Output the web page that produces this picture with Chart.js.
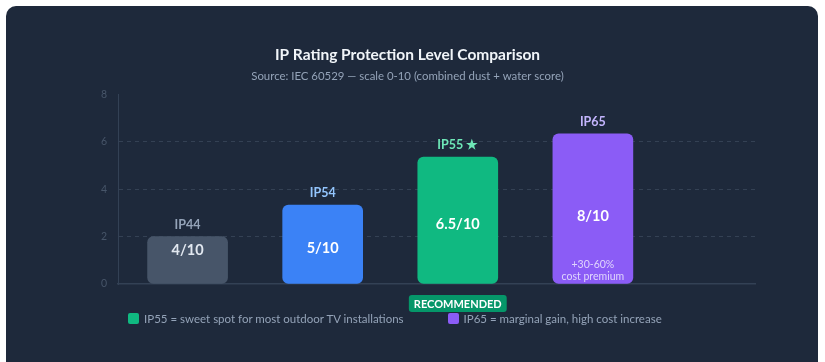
<!DOCTYPE html>
<html>
<head>
<meta charset="utf-8">
<script src="https://cdn.jsdelivr.net/npm/chart.js@4.4.1/dist/chart.umd.min.js"></script>
<style>
  html, body { margin: 0; padding: 0; background: #fff; overflow: hidden; }
  body { width: 825px; height: 362px; position: relative; font-family: Lato, sans-serif; }
  .card { position: absolute; left: 6px; top: 6px; width: 812px; height: 370px; background: #1e293b; border-radius: 10px; }
  .chart-wrap { position: absolute; left: 0; top: 0; width: 812px; height: 334px; }
  .legend { position: absolute; left: 122px; top: 306px; display: flex; gap: 44px; font-size: 11.5px; color: #94a3b8; }
  .legend span.item { display: flex; align-items: center; }
  .legend i { display: inline-block; width: 11px; height: 11px; border-radius: 2px; margin-right: 5px; }
</style>
</head>
<body>
<div class="card">
  <div class="chart-wrap"><canvas id="ip-chart"></canvas></div>
  <div class="legend" id="legend"></div>
</div>
<script>
// data
const categories = ['IP44', 'IP54', 'IP55', 'IP65'];
const barHeights = [2.0, 3.33, 5.35, 6.33];
const topLabels = ['IP44', 'IP54', 'IP55 \u2605', 'IP65'];
const scoreLabels = ['4/10', '5/10', '6.5/10', '8/10'];
const notes = ['', '', '', '+30-60%|cost premium'];
const badges = ['', '', 'RECOMMENDED', ''];
const yTicks = [0, 2, 4, 6, 8];
const legendItems = ['IP55 = sweet spot for most outdoor TV installations', 'IP65 = marginal gain, high cost increase'];

const barColors = ['#475569', '#3b82f6', '#10b981', '#8b5cf6'];
const labelColors = ['#94a3b8', '#93c5fd', '#6ee7b7', '#c4b5fd'];
const legendColors = ['#10b981', '#8b5cf6'];
const FONT = 'Lato, sans-serif';

const legendEl = document.getElementById('legend');
legendItems.forEach((t, i) => {
  legendEl.innerHTML += '<span class="item"><i style="background:' + legendColors[i] + '"></i>' + t + '</span>';
});

const barText = {
  id: 'barText',
  afterDatasetsDraw(chart) {
    const ctx = chart.ctx;
    const meta = chart.getDatasetMeta(0);
    ctx.save();
    ctx.textAlign = 'center';
    ctx.textBaseline = 'middle';
    meta.data.forEach((bar, i) => {
      const top = bar.y, bottom = bar.base, h = bottom - top;
      ctx.font = 'bold 12.5px ' + FONT;
      ctx.fillStyle = labelColors[i];
      ctx.fillText(topLabels[i], bar.x, top - 12);

      ctx.font = 'bold 14.5px ' + FONT;
      ctx.fillStyle = i === 0 ? '#e2e8f0' : '#ffffff';
      const sy = h < 60 ? top + 14 : (top + bottom) / 2 + (notes[i] ? 8 : 4);
      ctx.fillText(scoreLabels[i], bar.x, sy);

      if (notes[i]) {
        ctx.font = '10.5px ' + FONT;
        ctx.fillStyle = 'rgba(237,233,254,0.85)';
        notes[i].split('|').forEach((line, k) => {
          ctx.fillText(line, bar.x, bottom - 19 + k * 12);
        });
      }
      if (badges[i]) {
        ctx.font = 'bold 11px ' + FONT;
        const w = ctx.measureText(badges[i]).width + 10;
        const by = chart.chartArea.bottom + 11;
        ctx.fillStyle = '#059669';
        ctx.beginPath();
        ctx.roundRect(bar.x - w / 2, by, w, 17, 3);
        ctx.fill();
        ctx.fillStyle = '#ffffff';
        ctx.fillText(badges[i], bar.x, by + 9);
      }
    });
    ctx.restore();
  }
};

new Chart(document.getElementById('ip-chart'), {
  type: 'bar',
  data: {
    labels: categories,
    datasets: [{
      data: barHeights.map((v, i) => ({ x: i, y: v })),
      backgroundColor: barColors,
      borderRadius: 6,
      borderSkipped: false,
      barThickness: 80
    }]
  },
  options: {
    responsive: true,
    maintainAspectRatio: false,
    animation: false,
    layout: { padding: { left: 54, right: 63, top: 0, bottom: 56 } },
    plugins: {
      legend: { display: false },
      tooltip: { enabled: false },
      title: {
        display: true,
        text: 'IP Rating Protection Level Comparison',
        color: '#f1f5f9',
        font: { family: FONT, size: 15.5, weight: 'bold' },
        padding: { top: 40, bottom: 5 }
      },
      subtitle: {
        display: true,
        text: 'Source: IEC 60529 \u2014 scale 0-10 (combined dust + water score)',
        color: '#94a3b8',
        font: { family: FONT, size: 11.4 },
        padding: { top: 0, bottom: 11 }
      }
    },
    scales: {
      x: {
        type: 'linear',
        offset: false,
        bounds: 'data',
        min: -0.515,
        max: 4.2,
        grid: { display: false, drawTicks: false },
        border: { display: true, color: '#334155', width: 1.5 },
        ticks: { display: false }
      },
      y: {
        min: 0,
        max: 8,
        afterFit(scale) { scale.width = 58; },
        afterBuildTicks(scale) { scale.ticks = yTicks.map(v => ({ value: v })); },
        grid: {
          drawTicks: false,
          color: c => (c.tick && (c.tick.value === 8 || c.tick.value === 0)) ? 'transparent' : 'rgba(71,85,105,0.55)'
        },
        border: { display: true, color: '#334155', width: 1, dash: [4, 4] },
        ticks: { color: '#475569', padding: 11, font: { family: FONT, size: 10.5 } }
      }
    }
  },
  plugins: [barText]
});
</script>
</body>
</html>
